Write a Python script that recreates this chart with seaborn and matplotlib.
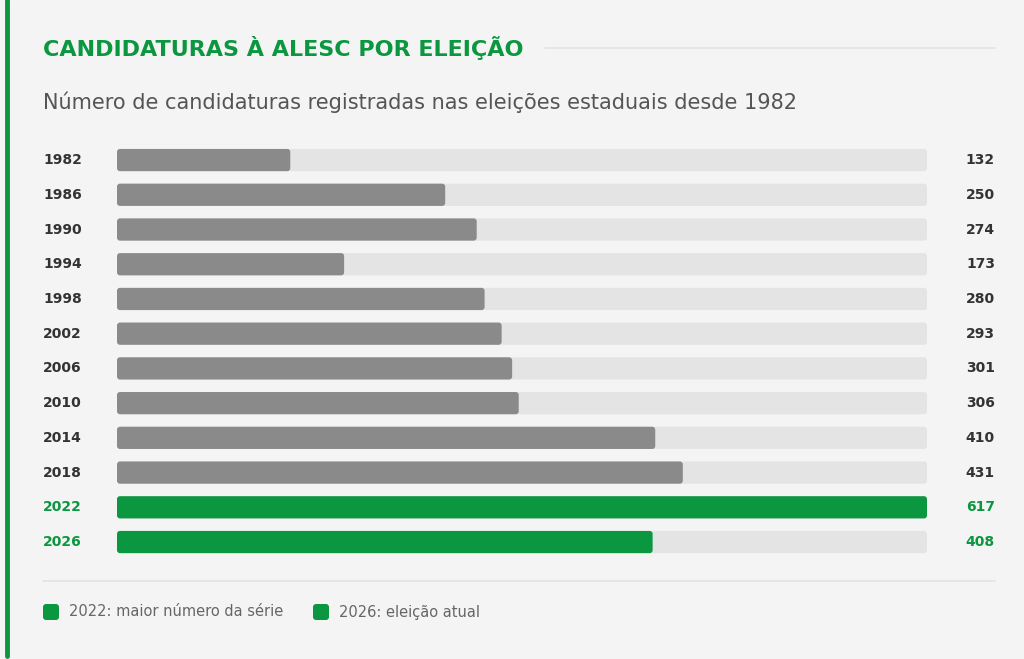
import pandas as pd
import matplotlib.pyplot as plt
import seaborn as sns
from matplotlib.patches import Rectangle, FancyBboxPatch

# Data
years = ['1982', '1986', '1990', '1994', '1998', '2002', '2006', '2010', '2014', '2018', '2022', '2026']
candidaturas = [132, 250, 274, 173, 280, 293, 301, 306, 410, 431, 617, 408]
highlight = ['2022', '2026']
legend_labels = ['2022: maior número da série', '2026: eleição atual']

df = pd.DataFrame({'ano': years, 'valor': candidaturas})
df['track'] = max(candidaturas)

bg = '#f4f4f4'
green = '#0b9640'
gray_bar = '#8a8a8a'
track_col = '#e4e4e4'

sns.set_theme(style='white')
plt.rcParams['font.family'] = ['DejaVu Sans']

fig = plt.figure(figsize=(10.24, 6.59), dpi=100)
fig.patch.set_facecolor(bg)
ax = fig.add_axes([117 / 1024, 1 - 559.4 / 659, 810 / 1024, 416.7 / 659])
ax.set_facecolor(bg)

# Background track
sns.barplot(data=df, y='ano', x='track', color=track_col, width=0.64,
            saturation=1, linewidth=0, ax=ax, orient='h')
# Values
palette = {y: (green if y in highlight else gray_bar) for y in years}
sns.barplot(data=df, y='ano', x='valor', hue='ano', palette=palette, width=0.64,
            saturation=1, linewidth=0, legend=False, ax=ax, orient='h')

ax.set_xlim(0, max(candidaturas))
ax.set_ylim(len(years) - 0.5, -0.5)

# Round the bar corners (about 3 px)
x_per_px = max(candidaturas) / 810
y_per_px = 12 / 416.7
for p in list(ax.patches):
    rb = FancyBboxPatch((p.get_x(), p.get_y()), p.get_width(), p.get_height(),
                        boxstyle=f'round,pad=0,rounding_size={3 * x_per_px}',
                        mutation_aspect=y_per_px / x_per_px,
                        facecolor=p.get_facecolor(), edgecolor='none', zorder=p.get_zorder())
    p.remove()
    ax.add_patch(rb)

ax.set_xlabel('')
ax.set_ylabel('')
ax.set_xticks([])
ax.set_yticks([])
for s in ax.spines.values():
    s.set_visible(False)

# Labels on each side
for i, (y, v) in enumerate(zip(years, candidaturas)):
    col = green if y in highlight else '#333333'
    ax.annotate(y, xy=(0, i), xycoords=('axes fraction', 'data'),
                xytext=(-74, 0), textcoords='offset pixels',
                ha='left', va='center', fontsize=10, fontweight='bold', color=col)
    ax.annotate(str(v), xy=(1, i), xycoords=('axes fraction', 'data'),
                xytext=(68, 0), textcoords='offset pixels',
                ha='right', va='center', fontsize=10, fontweight='bold', color=col)

# Left accent line
fig.add_artist(plt.Line2D([7 / 1024, 7 / 1024], [0.005, 1.0], color=green, lw=3.5))

# Title and subtitle
fig.text(43 / 1024, 1 - 48 / 659, 'CANDIDATURAS À ALESC POR ELEIÇÃO', color=green,
         fontsize=16, fontweight='heavy', va='center', ha='left')
fig.add_artist(plt.Line2D([545 / 1024, 995 / 1024], [1 - 48 / 659] * 2, color='#e2e2e2', lw=1.2))
fig.text(43 / 1024, 1 - 102 / 659,
         'Número de candidaturas registradas nas eleições estaduais desde 1982',
         color='#555555', fontsize=15, va='center', ha='left')

# Separator line
fig.add_artist(plt.Line2D([43 / 1024, 995 / 1024], [1 - 581 / 659] * 2, color='#e2e2e2', lw=1.2))

# Legend
leg_y = 1 - 612 / 659
for x0, lab in zip([43, 313], legend_labels):
    fig.add_artist(FancyBboxPatch((x0 / 1024, leg_y - 8 / 659), 16 / 1024, 16 / 659,
                                  boxstyle='round,pad=0,rounding_size=0.003',
                                  mutation_aspect=1024 / 659,
                                  transform=fig.transFigure, facecolor=green, edgecolor='none'))
    fig.text((x0 + 26) / 1024, leg_y, lab, color='#666666', fontsize=10.5,
             va='center', ha='left')

fig.savefig('out.png', dpi=100, facecolor=bg)
